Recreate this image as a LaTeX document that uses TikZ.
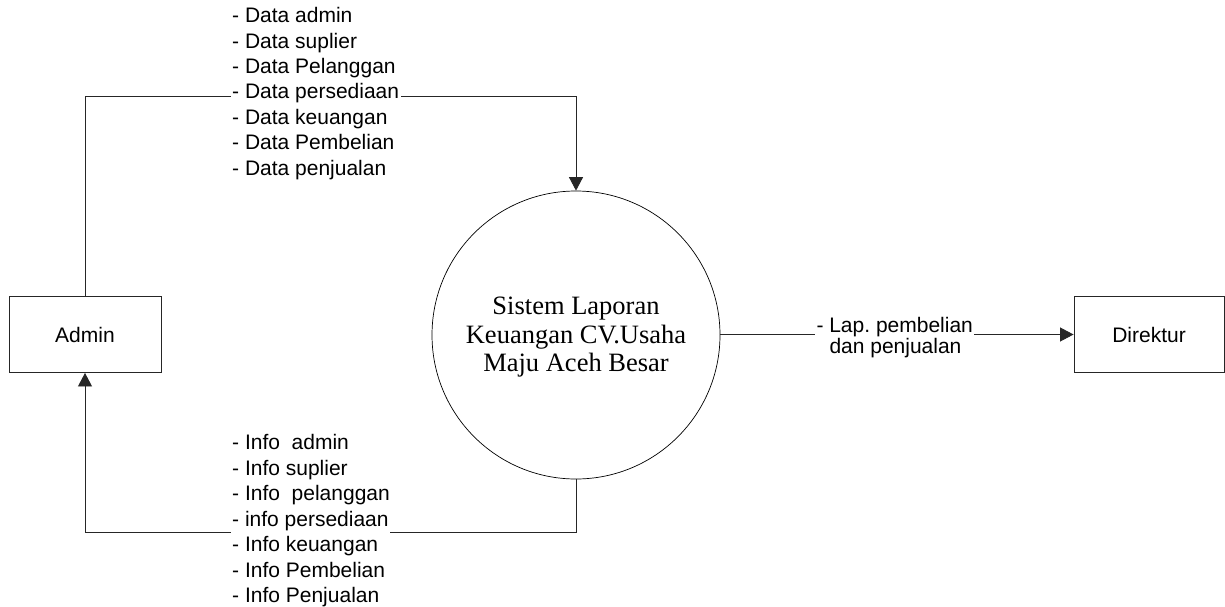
\documentclass[tikz,border=0pt]{standalone}
\usepackage{fontspec}
\setmainfont{Liberation Sans}
\newfontfamily\serifsys{Liberation Serif}
\usetikzlibrary{arrows.meta}
\frenchspacing
\begin{document}
\begin{tikzpicture}[x=1pt,y=-1pt,
  lbl/.style={font=\fontsize{21}{24}\selectfont, inner sep=0pt, anchor=base west},
  cut/.style={fill=white, inner xsep=1.5pt, inner ysep=2.5pt},
  entity/.style={draw=black!85, line width=0.9pt, minimum width=152pt, minimum height=76pt, inner sep=0pt, font=\fontsize{21}{24}\selectfont},
  process/.style={draw=black, circle, line width=0.7pt, minimum size=288pt, inner sep=0pt},
  flow/.style={line width=0.9pt, draw=black!85, -{Triangle[length=13.5pt,width=14pt]}},
  ]
\useasboundingbox (0,0) rectangle (1225,607);

% entities and process
\node[entity] (admin) at (85,334.5) {Admin};
\node[entity, minimum width=150pt] (dir) at (1149,334.5) {Direktur};
\node[process] (sys) at (576,335) {};
\node[align=center, inner sep=0pt, font={\serifsys\fontsize{26.5}{28.3}\selectfont}] (systxt) at (576,337.3)
  {Sistem Laporan\\Keuangan CV.Usaha\\Maju Aceh Besar};

% connectors
\coordinate (tc) at (576,96.8);
\coordinate (bc) at (576,532);
\draw[flow] (admin.north) |- (tc) -- (sys.north);
\draw[flow] (sys.south) -- (bc) -| (admin.south);
\draw[flow] (sys.east |- dir.west) -- (dir.west);

% top labels
\node[lbl] (t1) at (232,22.7) {- Data admin};
\node[lbl] (t2) at (232,48.1) {- Data suplier};
\node[lbl] (t3) at (232,73.6) {- Data Pelanggan};
\node[lbl,cut] (t4) at (230.5,99) {- Data persediaan};
\node[lbl] (t5) at (232,124.4) {- Data keuangan};
\node[lbl] (t6) at (232,149.9) {- Data Pembelian};
\node[lbl] (t7) at (232,175.3) {- Data penjualan};

% bottom labels
\node[lbl] (b1) at (232,449.9) {- Info~~admin};
\node[lbl] (b2) at (232,475.4) {- Info suplier};
\node[lbl] (b3) at (232,500.9) {- Info~~pelanggan};
\node[lbl,cut] (b4) at (230.5,526.4) {- info persediaan};
\node[lbl] (b5) at (232,551.9) {- Info keuangan};
\node[lbl] (b6) at (232,577.4) {- Info Pembelian};
\node[lbl] (b7) at (232,602.9) {- Info Penjualan};

% right label
\node[lbl,cut] (r1) at (814.8,332.3) {- Lap. pembelian};
\node[lbl] (r2) at (829.3,353.3) {dan penjualan};
\end{tikzpicture}
\end{document}
